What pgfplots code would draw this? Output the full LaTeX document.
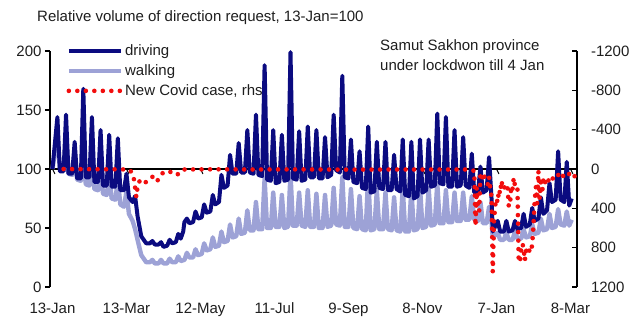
\documentclass[border=0pt]{standalone}
\usepackage{fontspec}
\setmainfont{Liberation Sans}
\usepackage{pgfplots}
\pgfplotsset{compat=1.18}

\definecolor{drive}{HTML}{0B0B80}
\definecolor{walk}{HTML}{9DA2D6}
\definecolor{covid}{HTML}{F20D0D}
\definecolor{ink}{HTML}{1E1E1E}

\newcommand{\chartfont}{\fontsize{15}{18}\selectfont}

\pgfplotsset{
  /pgf/number format/assume math mode=true,
  panel/.style={
    at={(plotcentre)}, anchor=center,
    scale only axis, width=527pt, height=236pt,
    xmin=-2, xmax=425.3,
    clip=false,
    axis line style={-, line width=1.2pt, black},
    tick style={line width=1.2pt, black},
    major tick length=5pt,
    tick label style={font=\chartfont, text=ink},
  },
}

\begin{document}
\begin{tikzpicture}[x=1pt, y=1pt, font=\chartfont]
\coordinate (plotcentre) at (313.5,153);

\node[anchor=base west, text=ink, inner sep=0pt] at (37,300.5) {Relative volume of direction request, 13-Jan=100};
\node[anchor=base west, text=ink, inner sep=0pt] at (380,271) {Samut Sakhon province};
\node[anchor=base west, text=ink, inner sep=0pt] at (380,251.5) {under lockdwon till 4 Jan};

% left axis: mobility index, 13-Jan = 100
\begin{axis}[panel,
  ymin=0, ymax=200,
  axis y line*=left, axis x line*=bottom,
  x axis line style={draw=none},
  xtick={0,60,120,180,240,300,360,420},
  xticklabels={13-Jan,13-Mar,12-May,11-Jul,9-Sep,8-Nov,7-Jan,8-Mar},
  xtick style={draw=none},
  xticklabel style={yshift=-7.5pt},
  ytick={0,50,100,150,200},
  tick align=outside,
]
% baseline at 100
\addplot[black, line width=1.2pt] coordinates {(-2,100) (425.3,100)};
\pgfplotsinvokeforeach{0,60,120,180,240,300,360,420}{
  \draw[black, line width=1pt] (axis cs:#1,100) -- ++(0,-5pt);
}

% walking
\addplot[walk, line width=4.4pt, line join=round] coordinates {
(0,100) (4,128) (6,101) (9,100)
(11,126) (13,96) (16,95)
(18,115) (20,91) (23,90)
(25,118) (27,87) (30,86)
(32,109) (34,83) (37,82)
(39,101) (41,79) (44,78)
(46,95) (48,75) (51,74)
(53,91) (55,70) (58,68)
(60,81) (62,62) (65,56)
(67,49) (69,40) (72,27)
(74,24) (76,21) (79,21)
(81,23) (83,20) (86,20)
(88,23) (90,20) (93,20)
(95,24) (97,21) (100,21)
(102,26) (104,22) (107,23)
(109,29) (111,25) (114,25)
(116,32) (118,27) (121,28)
(123,37) (125,31) (128,32)
(130,42) (132,34) (135,35)
(137,47) (139,38) (142,39)
(144,53) (146,42) (149,43)
(151,58) (153,45) (156,46)
(158,65) (160,48) (163,48)
(165,72) (167,49) (170,49)
(172,92) (174,50) (177,50)
(179,80) (181,51) (184,51)
(186,78) (188,50) (191,51)
(193,96) (195,52) (198,52)
(200,80) (202,52) (205,51)
(207,82) (209,51) (212,51)
(214,79) (216,50) (219,50)
(221,78) (223,51) (226,52)
(228,84) (230,53) (233,52)
(235,93) (237,51) (240,51)
(242,83) (244,50) (247,49)
(249,77) (251,49) (254,48)
(256,95) (258,48) (261,49)
(263,82) (265,49) (268,49)
(270,80) (272,49) (275,48)
(277,76) (279,48) (282,47)
(284,84) (286,47) (289,47)
(291,83) (293,48) (296,49)
(298,85) (300,50) (303,51)
(305,84) (307,52) (310,53)
(312,88) (314,54) (317,54)
(319,82) (321,55) (324,55)
(326,80) (328,56) (331,56)
(333,80) (335,57) (338,57)
(340,77) (342,57) (345,56)
(347,72) (349,54) (352,54)
(354,68) (356,55) (357,42)
(361,46) (363,40) (366,40)
(368,46) (370,40) (373,40)
(375,47) (377,41) (380,41)
(382,49) (384,42) (387,43)
(389,53) (391,45) (394,46)
(396,58) (398,48) (401,49)
(403,62) (405,50) (408,51)
(410,66) (412,53) (415,52)
(417,64) (419,52) (421,57)
};

% driving
\addplot[drive, line width=4pt, line join=round] coordinates {
(0,100) (4,144) (6,98) (9,98)
(11,146) (13,96) (16,96)
(18,123) (20,92) (23,92)
(25,168) (27,93) (30,93)
(32,144) (34,89) (37,89)
(39,133) (41,86) (44,86)
(46,129) (48,85) (51,85)
(53,126) (55,82) (58,82)
(60,96) (62,76) (65,72)
(67,77) (69,60) (72,43)
(74,40) (76,37) (79,37)
(81,39) (83,36) (86,36)
(88,38) (90,34) (93,35)
(95,40) (97,37) (100,38)
(102,45) (104,41) (106,47) (107,55)
(109,58) (111,54) (114,55)
(116,64) (118,58) (121,59)
(123,70) (125,63) (128,64)
(130,78) (132,70) (135,72)
(137,95) (139,84) (142,86)
(144,112) (146,96) (149,96)
(151,122) (153,97) (156,97)
(158,133) (160,97) (163,96)
(165,146) (167,95) (170,94)
(172,188) (174,91) (177,90)
(179,133) (181,88) (184,89)
(186,129) (188,90) (191,91)
(193,199) (195,92) (198,91)
(200,132) (202,90) (205,91)
(207,136) (209,93) (212,93)
(214,133) (216,92) (219,92)
(221,127) (223,93) (226,95)
(228,146) (230,99) (233,97)
(235,179) (237,93) (240,92)
(242,125) (244,89) (247,88)
(249,115) (251,84) (254,83)
(256,136) (258,80) (261,81)
(263,123) (265,84) (268,83)
(270,123) (272,82) (275,82)
(277,112) (279,83) (282,81)
(284,125) (286,78) (289,77)
(291,123) (293,75) (296,77)
(298,125) (300,80) (303,82)
(305,125) (307,85) (310,86)
(312,147) (314,88) (317,87)
(319,144) (321,85) (324,85)
(326,133) (328,85) (331,86)
(333,127) (335,86) (338,84)
(340,113) (342,80) (345,80)
(347,102) (349,80) (352,82)
(354,110) (356,75) (357,47)
(361,56) (363,47) (366,47)
(368,56) (370,47) (373,48)
(375,56) (377,49) (380,50)
(382,62) (384,51) (387,53)
(389,67) (391,56) (394,58)
(396,76) (398,62) (401,65)
(403,88) (405,72) (408,74)
(410,115) (412,74) (415,72)
(417,106) (419,69) (421,75)
};
\end{axis}

% right axis: daily new Covid cases, reversed
\begin{axis}[panel,
  ymin=-1200, ymax=1200, y dir=reverse,
  axis y line*=right, axis x line=none,
  ytick={-1200,-800,-400,0,400,800,1200},
  yticklabels={-1200,-800,-400,0,400,800,1200},
  tick align=inside,
  yticklabel style={xshift=10.5pt},
  legend style={draw=none, fill=none, at={(axis description cs:0.031,1.035)}, anchor=north west,
    font=\chartfont, text=ink, row sep=3.5pt, inner sep=0pt},
  legend cell align=left,
  legend image code/.code={\draw[#1] (0pt,0pt) -- (52pt,0pt);},
]
\addlegendimage{drive, line width=4pt}
\addlegendentry{driving}
\addlegendimage{walk, line width=4.4pt}
\addlegendentry{walking}
\addplot[covid, line width=4.6pt, line cap=round, dash pattern=on 0pt off 8.5pt] coordinates {
(9,0) (30,2) (50,3) (62,5) (64,30) (66,100) (67,190) (68,285) (69,180)
(71,110) (75,140) (78,110) (81,80) (84,80) (85,120) (90,30) (97,30)
(101,60) (106,5) (130,3) (160,5) (200,4) (240,6) (280,5) (320,5)
(337,5) (339,10) (341,15) (342,20)
(343,580) (344,190) (345,380) (346,430) (347,50) (348,40) (349,110)
(350,65) (351,120) (352,145) (353,155) (354,80) (355,195) (356,280)
(357,1045) (358,530) (359,370) (360,300) (361,340) (362,210) (363,250)
(364,120) (365,180) (366,160) (367,220) (368,190) (369,190) (370,380)
(371,370) (372,170) (373,200) (374,90) (375,170) (376,200) (377,190)
(378,910) (379,950) (380,820) (381,760) (382,800) (383,930) (384,830)
(385,840) (386,800) (387,850) (388,830) (389,770) (390,560) (391,320)
(392,180) (393,350) (394,20) (395,300) (396,130) (397,250) (398,110)
(399,160) (400,100) (401,130) (402,120) (403,90) (404,110) (405,90)
(406,100) (407,80) (408,70) (409,80) (410,60) (411,70) (412,60)
(413,90) (414,70) (415,60) (416,80) (417,70) (418,60) (419,50)
(420,60) (421,80) (422,90) (423,70) (424,80) (425,95)
};
\addlegendentry{New Covid case, rhs}
\end{axis}

\pgfresetboundingbox
\useasboundingbox (0,0) rectangle (636,322);
\end{tikzpicture}
\end{document}
